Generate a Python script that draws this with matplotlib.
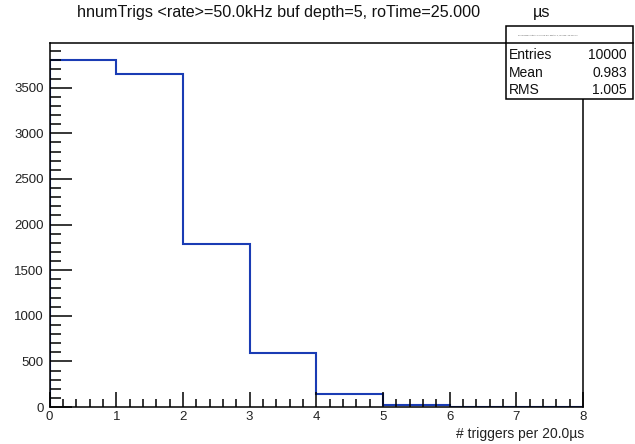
import numpy as np
import matplotlib
matplotlib.use('Agg')
import matplotlib.pyplot as plt
from matplotlib.ticker import MultipleLocator

# histogram contents
bin_edges = [0, 1, 2, 3, 4, 5, 6, 7, 8]
counts = [3800, 3650, 1790, 590, 148, 20, 2, 0]

title_txt = 'hnumTrigs <rate>=50.0kHz buf depth=5, roTime=25.000'
title_unit = 'µs'
x_label = '# triggers per 20.0µs'
stat_names = ['Entries', 'Mean', 'RMS']
stat_values = ['10000', '0.983', '1.005']

plt.rcParams['font.family'] = ['Liberation Sans', 'DejaVu Sans']

fig = plt.figure(figsize=(6.35, 4.44), dpi=100)
ax = fig.add_axes([0.078, 0.0833, 0.840, 0.8199])

ax.stairs(counts, bin_edges, color='#1a3cb4', linewidth=1.5, baseline=0)

ax.set_xlim(0, 8)
ax.set_ylim(0, 3990)

ax.xaxis.set_major_locator(MultipleLocator(1))
ax.xaxis.set_minor_locator(MultipleLocator(0.2))
ax.yaxis.set_major_locator(MultipleLocator(500))
ax.yaxis.set_minor_locator(MultipleLocator(100))

ax.tick_params(axis='both', which='both', direction='in', top=False, right=False,
               colors='black', labelcolor='#222222', labelsize=9.5, width=1.1)
ax.tick_params(axis='y', which='major', length=16, pad=4)
ax.tick_params(axis='y', which='minor', length=8)
ax.tick_params(axis='x', which='major', length=11, pad=3)
ax.tick_params(axis='x', which='minor', length=6)

for sp in ax.spines.values():
    sp.set_linewidth(1.1)
    sp.set_color('black')

# title (unit drawn a bit apart like in the original)
fig.text(77 / 635, 1 - 13 / 444, title_txt, fontsize=11.6, ha='left', va='center', color='#111111')
fig.text(533 / 635, 1 - 13 / 444, title_unit, fontsize=11.6, ha='left', va='center', color='#111111')

# x axis title, right aligned
fig.text(584 / 635, 1 - 434 / 444, x_label, fontsize=10, ha='right', va='center', color='#222222')

# stats box
bx0, bx1 = 506 / 635, 633 / 635
by0, by1 = 1 - 99 / 444, 1 - 26 / 444
box = plt.Rectangle((bx0, by0), bx1 - bx0, by1 - by0, transform=fig.transFigure,
                    facecolor='white', edgecolor='black', linewidth=1.1, zorder=5)
fig.add_artist(box)
sep_y = 1 - 43 / 444
fig.add_artist(plt.Line2D([bx0, bx1], [sep_y, sep_y], transform=fig.transFigure,
                          color='black', linewidth=1.1, zorder=6))
fig.text(548 / 635, 1 - 35 / 444, title_txt + ' ' + title_unit, fontsize=1.6,
         ha='center', va='center', color='#555555', zorder=7)
row_y = [55, 73, 90]
for name, val, yy in zip(stat_names, stat_values, row_y):
    fig.text(509 / 635, 1 - yy / 444, name, fontsize=10, ha='left', va='center', color='#111111', zorder=7)
    fig.text(627 / 635, 1 - yy / 444, val, fontsize=10, ha='right', va='center', color='#111111', zorder=7)

fig.savefig('out.png', dpi=100)
